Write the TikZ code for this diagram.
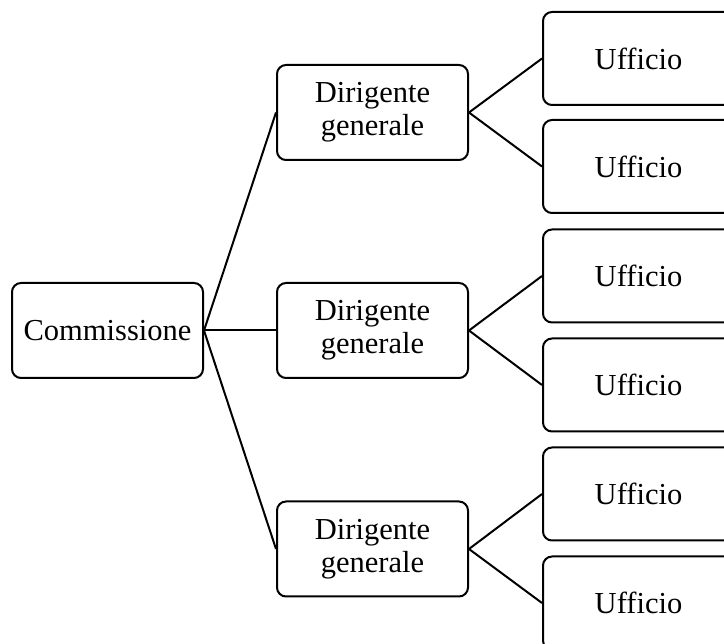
\documentclass[tikz,border=0pt]{standalone}
\usepackage{fontspec}
\setmainfont{Liberation Serif}
\begin{document}
\begin{tikzpicture}[x=1pt,y=-1pt,
  box/.style={draw=black, line width=2pt, rounded corners=9pt, minimum width=191pt, minimum height=95pt, align=center, inner sep=0pt, font=\fontsize{30.5}{33}\selectfont},
  ubox/.style={box, minimum height=93pt},
  conn/.style={draw=black, line width=2pt}]
\useasboundingbox (0,0) rectangle (724,644);
\clip (0,0) rectangle (724,644);
\node[box] (c) at (107.5,330.5) {Commissione};
\node[box] (d1) at (372.5,112.5) {Dirigente\\generale};
\node[box] (d2) at (372.5,330.5) {Dirigente\\generale};
\node[box] (d3) at (372.5,549) {Dirigente\\generale};
\node[ubox] (u1) at (638.5,58.5) {Ufficio};
\node[ubox] (u2) at (638.5,166.5) {Ufficio};
\node[ubox] (u3) at (638.5,276) {Ufficio};
\node[ubox] (u4) at (638.5,385) {Ufficio};
\node[ubox] (u5) at (638.5,494) {Ufficio};
\node[ubox] (u6) at (638.5,603) {Ufficio};
\draw[conn] (c.east) -- (d1.west);
\draw[conn] (c.east) -- (d2.west);
\draw[conn] (c.east) -- (d3.west);
\draw[conn] (d1.east) -- (u1.west);
\draw[conn] (d1.east) -- (u2.west);
\draw[conn] (d2.east) -- (u3.west);
\draw[conn] (d2.east) -- (u4.west);
\draw[conn] (d3.east) -- (u5.west);
\draw[conn] (d3.east) -- (u6.west);
\end{tikzpicture}
\end{document}
